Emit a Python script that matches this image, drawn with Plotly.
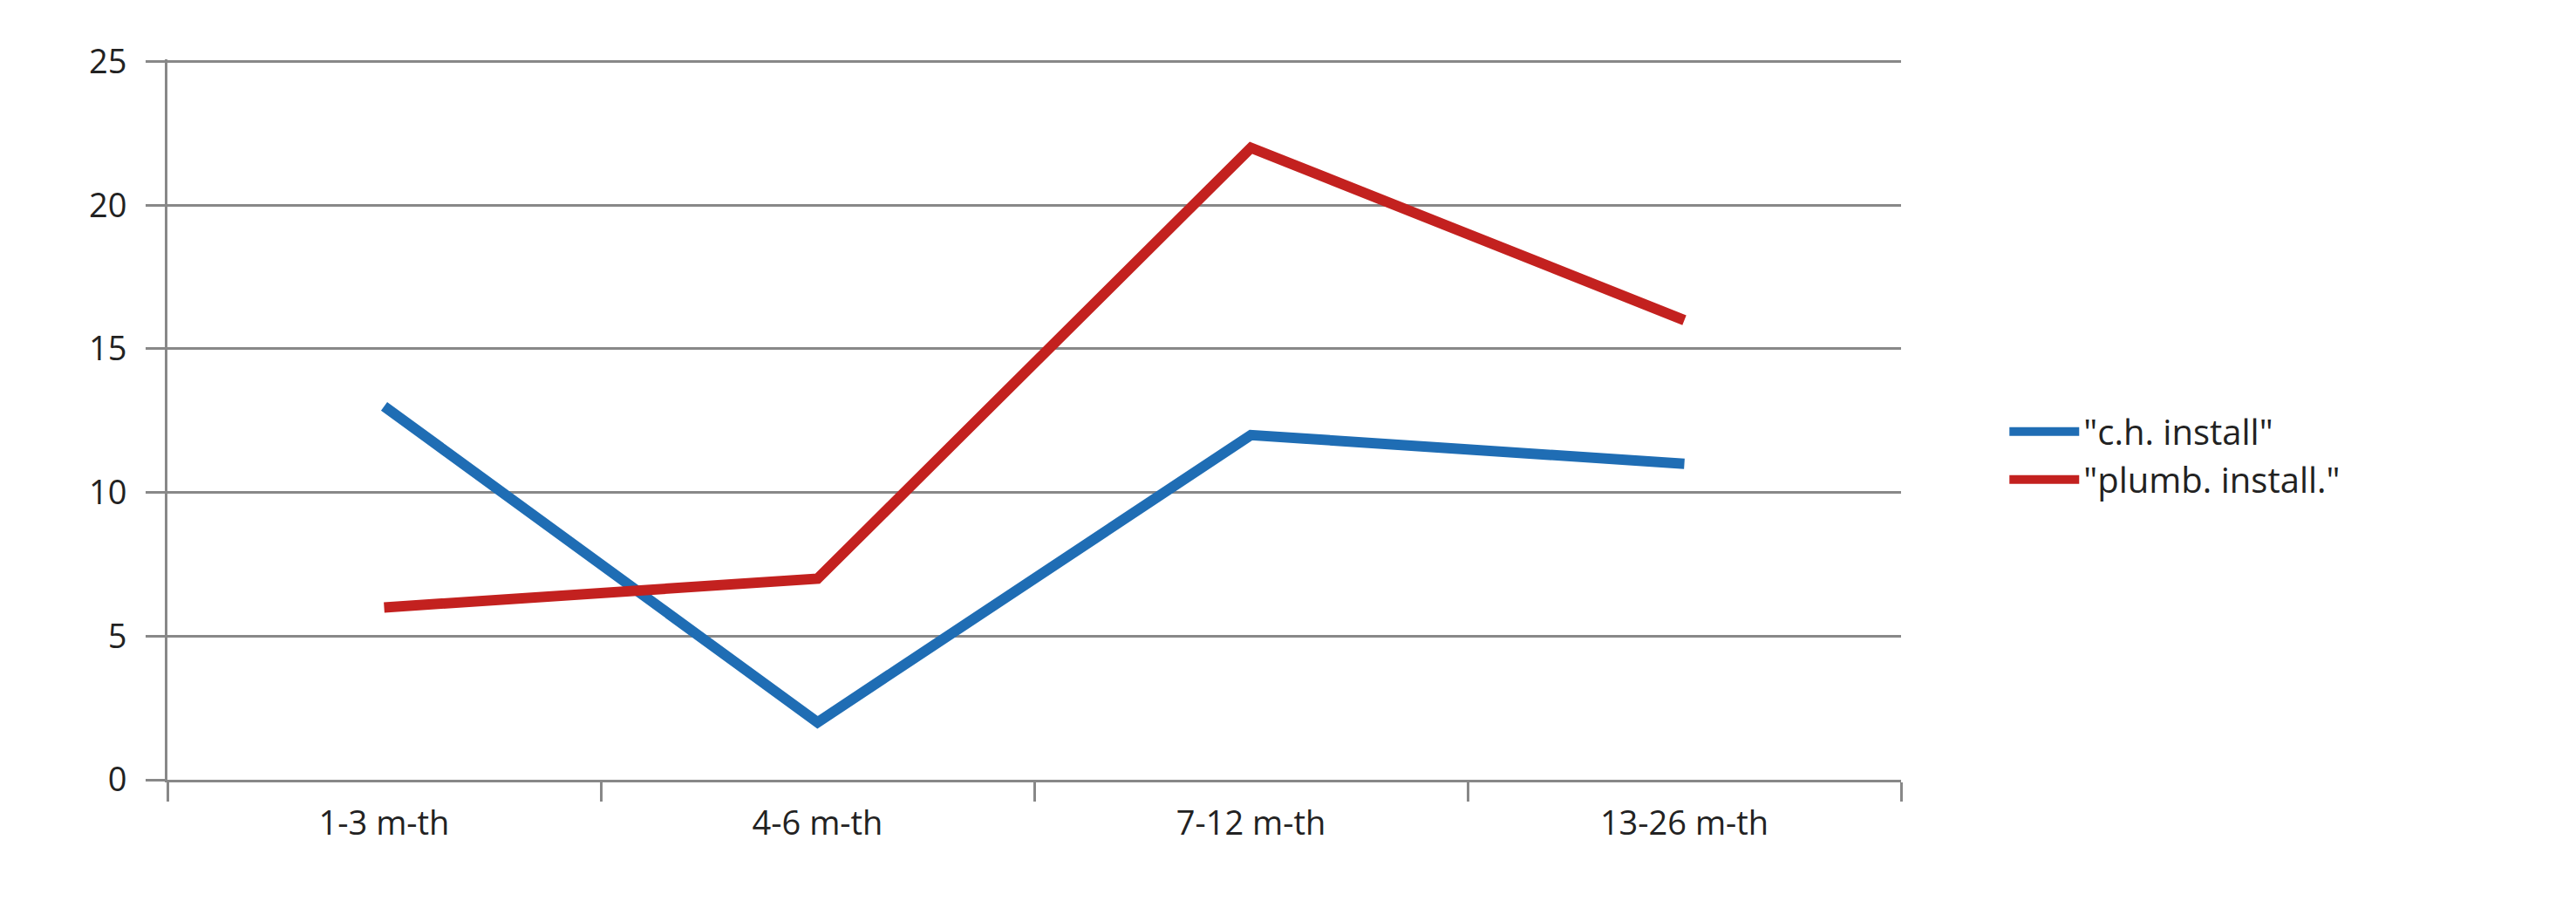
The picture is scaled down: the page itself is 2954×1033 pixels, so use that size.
import plotly.graph_objects as go

categories = ["1-3 m-th", "4-6 m-th", "7-12 m-th", "13-26 m-th"]
ch_install = [13, 2, 12, 11]
plumb_install = [6, 7, 22, 16]
series_names = ['"c.h. install"', '"plumb. install."']
y_ticks = [0, 5, 10, 15, 20, 25]

fig = go.Figure()
fig.add_trace(go.Scatter(x=categories, y=ch_install, mode="lines", name=series_names[0],
                         line=dict(color="#1f6db4", width=12)))
fig.add_trace(go.Scatter(x=categories, y=plumb_install, mode="lines", name=series_names[1],
                         line=dict(color="#c3211f", width=12)))

fig.update_layout(
    width=2954, height=1033,
    margin=dict(l=184, r=782, t=60, b=147),
    plot_bgcolor="white", paper_bgcolor="white",
    font=dict(family="Open Sans", size=38, color="#222"),
    legend=dict(x=1.06, y=0.45, xanchor="left", yanchor="middle",
                font=dict(size=40), tracegroupgap=75, itemwidth=80),
    showlegend=True,
)
fig.update_xaxes(type="category", range=[-0.5, 3.5], showline=True, linecolor="#888", linewidth=3,
                 ticks="outside", tickson="boundaries", ticklen=22, tickcolor="#888", tickwidth=3,
                 showgrid=False, ticklabelstandoff=14)
fig.update_yaxes(range=[0, 25.08], tickvals=y_ticks, showline=True, linecolor="#888", linewidth=3,
                 ticks="outside", ticklen=22, tickcolor="#888", tickwidth=3,
                 showgrid=True, gridcolor="#888", gridwidth=3, zeroline=False, ticklabelstandoff=14)

fig.write_html("out.html")
